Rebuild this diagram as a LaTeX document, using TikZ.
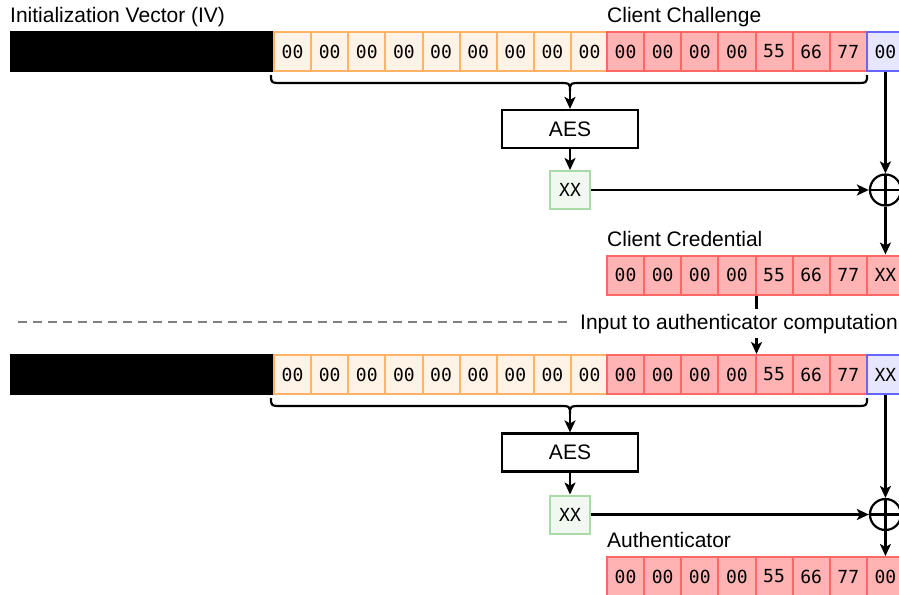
\documentclass[tikz,border=0pt]{standalone}
\usepackage{fontspec}
\setmainfont{Liberation Sans}
\newfontfamily\hexfont{DejaVu Sans Mono}
\usetikzlibrary{arrows.meta}
\definecolor{ivfill}{HTML}{FFF2E6}
\definecolor{ivline}{HTML}{FFB366}
\definecolor{chfill}{HTML}{FFB3B3}
\definecolor{chline}{HTML}{FF6666}
\definecolor{ctfill}{HTML}{E6E6FF}
\definecolor{ctline}{HTML}{6666FF}
\definecolor{encfill}{HTML}{F0F8F0}
\definecolor{encline}{HTML}{A9DBA9}
\begin{document}
\begin{tikzpicture}[x=1pt, y=-1pt, font=\fontsize{21}{25}\selectfont,
   byte/.style={draw, line width=2pt, minimum width=37.125pt, minimum height=39pt, inner sep=0pt, anchor=west, font=\hexfont\fontsize{18}{21}\selectfont},
   ivbyte/.style={byte, draw=ivline, fill=ivfill},
   chbyte/.style={byte, draw=chline, fill=chfill},
   ctbyte/.style={byte, draw=ctline, fill=ctfill},
   hidden/.style={draw, fill=black, line width=2pt, minimum width=263pt, minimum height=39pt, inner sep=0pt, anchor=west},
   aesbox/.style={draw, line width=2.2pt, minimum width=136pt, minimum height=38pt},
   encbyte/.style={draw=encline, fill=encfill, line width=2pt, minimum width=40pt, minimum height=38pt, inner sep=0pt, font=\hexfont\fontsize{18}{21}\selectfont},
   xor/.style={circle, draw, line width=2.2pt, minimum size=31pt, inner sep=0pt, path picture={\draw [line width=2.2pt] (path picture bounding box.north) -- (path picture bounding box.south) (path picture bounding box.west) -- (path picture bounding box.east);}},
   flow/.style={line width=2.2pt, -{Stealth[length=12pt, width=11pt, inset=3pt]}},
   brace/.style={line width=2.2pt},
   title/.style={anchor=base west, inner sep=0pt}]
\useasboundingbox (0,0) rectangle (899,594);

% challenge
\node [title] (iv) at (10,23) {Initialization Vector (IV)};
\node [title] (chal) at (607,23) {Client Challenge};
\node [hidden] (a-k) at (10,51.5) {};
\foreach \i in {0,...,8}
   \node [ivbyte] (a-o\i) at (273+37.125*\i,51.5) {00};
\foreach \v [count=\i] in {00,00,00,00,55,66,77}
   \node [chbyte] (a-r\i) at (606+37.125*\i-37.125,51.5) {\v};
\node [ctbyte] (a-c) at (865.875,51.5) {00};
\draw [brace] (271,75) .. controls (271,83) .. (283,83) -- (558,83) .. controls (570,83) .. (570,91) coordinate (a-tip) .. controls (570,83) .. (582,83) -- (855,83) .. controls (867,83) .. (867,75);
\node [aesbox] (a-aes) at (570,129) {AES};
\node [encbyte] (a-enc) at (570,190) {XX};
\node [xor] (a-xor) at (a-c |- a-enc) {};

% credential
\node [title] (cred) at (607,246) {Client Credential};
\foreach \v [count=\i] in {00,00,00,00,55,66,77,XX}
   \node [chbyte] (b-r\i) at (606+37.125*\i-37.125,275) {\v};
\draw [flow] (a-tip) -- (a-aes);
\draw [flow] (a-aes) -- (a-enc);
\draw [flow] (a-enc) -- (a-xor);
\draw [flow] (a-c) -- (a-xor);
\draw [flow] (a-xor) -- (b-r8);

% authenticator input
\node [hidden] (c-k) at (10,374.5) {};
\foreach \i in {0,...,8}
   \node [ivbyte] (c-o\i) at (273+37.125*\i,374.5) {00};
\foreach \v [count=\i] in {00,00,00,00,55,66,77}
   \node [chbyte] (c-r\i) at (606+37.125*\i-37.125,374.5) {\v};
\node [ctbyte] (c-c) at (865.875,374.5) {XX};
\draw [line width=2.5pt, gray, dash pattern=on 9pt off 6pt] (18,322) -- (570,322);
\draw [flow] (b-r4.south east) -- (c-r4.north east);
\node [title, fill=white, inner xsep=2pt, inner ysep=5pt] (inp) at (578,329) {Input to authenticator computation};
\draw [brace] (271,398) .. controls (271,406) .. (283,406) -- (558,406) .. controls (570,406) .. (570,414) coordinate (c-tip) .. controls (570,406) .. (582,406) -- (855,406) .. controls (867,406) .. (867,398);
\node [aesbox] (c-aes) at (570,452.5) {AES};
\node [encbyte] (c-enc) at (570,514.5) {XX};
\node [xor] (c-xor) at (c-c |- c-enc) {};

% authenticator
\node [title] (auth) at (607,547) {Authenticator};
\foreach \v [count=\i] in {00,00,00,00,55,66,77,00}
   \node [chbyte] (d-r\i) at (606+37.125*\i-37.125,576.5) {\v};
\draw [flow] (c-tip) -- (c-aes);
\draw [flow] (c-aes) -- (c-enc);
\draw [flow] (c-enc) -- (c-xor);
\draw [flow] (c-c) -- (c-xor);
\draw [flow] (c-xor) -- (d-r8);
\end{tikzpicture}
\end{document}
